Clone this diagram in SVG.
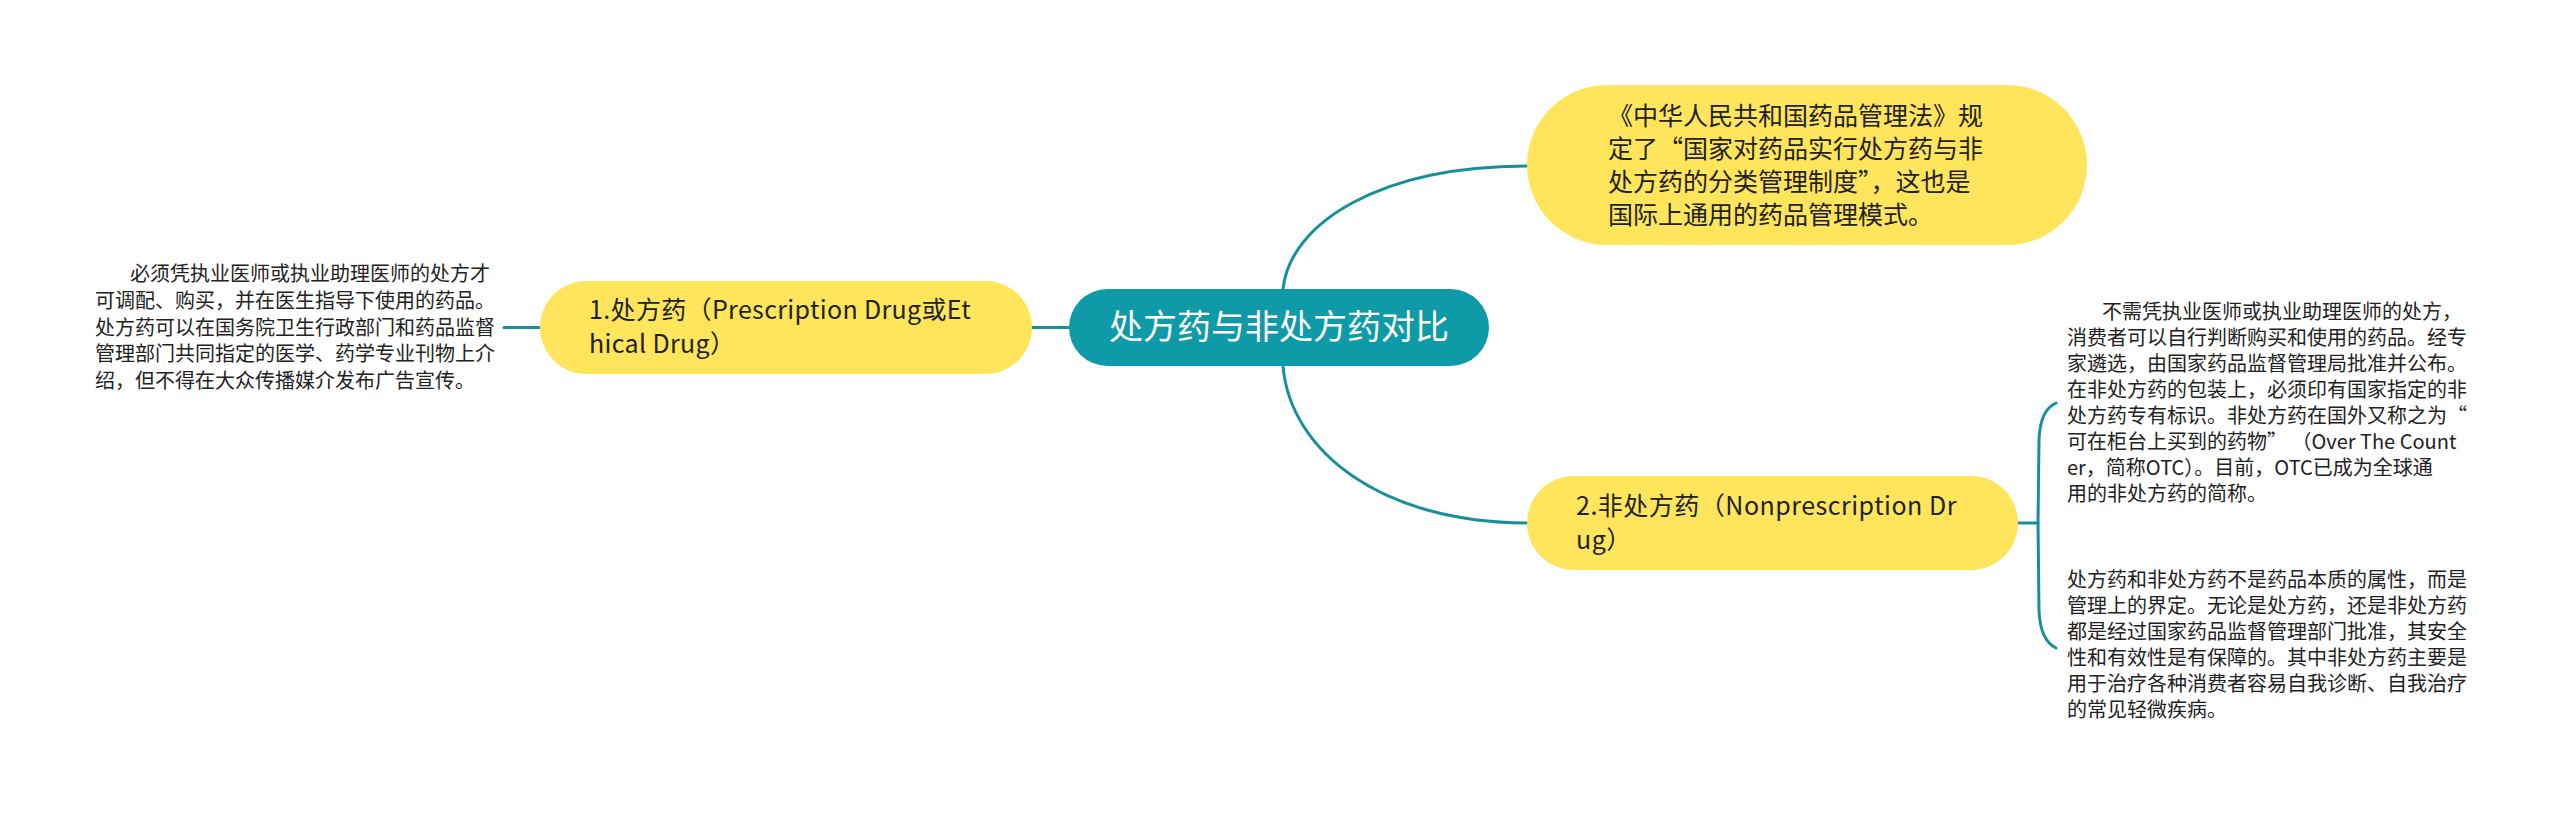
<svg xmlns="http://www.w3.org/2000/svg" width="2560" height="817" viewBox="0 0 2560 817">
<style>
.txt{font-family:"Noto Sans CJK SC","Microsoft YaHei",sans-serif;fill:#222}
.node{fill:#FFE55C}
.center{fill:#0E9AA7}
.ct{font-family:"Noto Sans CJK SC","Microsoft YaHei",sans-serif;fill:#fff;font-size:34px}
.nt{font-size:25px}
.lt{font-size:20px}
.conn{fill:none;stroke:#178F9C;stroke-width:3;stroke-linecap:round}
</style>
<rect width="2560" height="817" fill="#fff"/>
<g id="connectors">
<path class="conn" d="M1032,327.5 L1069,327.5"/>
<path class="conn" d="M504,327.5 L540,327.5"/>
<path class="conn" d="M1283,289 C1290,223 1380,166 1528,166"/>
<path class="conn" d="M1283,366 C1290,450 1380,523 1528,523"/>
<path class="conn" d="M2018,523 L2038,523"/>
<path class="conn" d="M2056,403 Q2040,410 2039,440 L2038,523 L2039,610 Q2040,640 2056,648"/>
</g>
<g id="center">
<rect class="center" x="1069" y="289" width="420" height="77" rx="38.5"/>
<text class="ct" x="1279" y="339" text-anchor="middle">处方药与非处方药对比</text>
</g>
<g id="node-top">
<rect class="node" x="1527" y="85" width="560" height="160" rx="80"/>
<text class="txt nt" x="1608"><tspan x="1608" y="125">《中华人民共和国药品管理法》规</tspan><tspan x="1608" y="158">定了“国家对药品实行处方药与非</tspan><tspan x="1608" y="191">处方药的分类管理制度”，这也是</tspan><tspan x="1608" y="224">国际上通用的药品管理模式。</tspan></text>
</g>
<g id="node-1">
<rect class="node" x="540" y="281" width="492" height="93" rx="46.5"/>
<text class="txt nt" letter-spacing="0.35"><tspan x="589" y="319">1.处方药（Prescription Drug或Et</tspan><tspan x="589" y="353">hical Drug）</tspan></text>
</g>
<g id="node-2">
<rect class="node" x="1527" y="476" width="491" height="94" rx="47"/>
<text class="txt nt" letter-spacing="0.5"><tspan x="1576" y="515">2.非处方药（Nonprescription Dr</tspan><tspan x="1576" y="549">ug）</tspan></text>
</g>
<g id="text-left">
<text class="txt lt"><tspan x="130" y="281">必须凭执业医师或执业助理医师的处方才</tspan><tspan x="95" y="308">可调配、购买，并在医生指导下使用的药品。</tspan><tspan x="95" y="335">处方药可以在国务院卫生行政部门和药品监督</tspan><tspan x="95" y="361">管理部门共同指定的医学、药学专业刊物上介</tspan><tspan x="95" y="388">绍，但不得在大众传播媒介发布广告宣传。</tspan></text>
</g>
<g id="text-right-1">
<text class="txt lt"><tspan x="2102" y="319">不需凭执业医师或执业助理医师的处方，</tspan><tspan x="2067" y="345">消费者可以自行判断购买和使用的药品。经专</tspan><tspan x="2067" y="371">家遴选，由国家药品监督管理局批准并公布。</tspan><tspan x="2067" y="397">在非处方药的包装上，必须印有国家指定的非</tspan><tspan x="2067" y="423">处方药专有标识。非处方药在国外又称之为“</tspan><tspan x="2067" y="449">可在柜台上买到的药物” （Over The Count</tspan><tspan x="2067" y="475">er，简称OTC）。目前，OTC已成为全球通</tspan><tspan x="2067" y="501">用的非处方药的简称。</tspan></text>
</g>
<g id="text-right-2">
<text class="txt lt"><tspan x="2067" y="587">处方药和非处方药不是药品本质的属性，而是</tspan><tspan x="2067" y="613">管理上的界定。无论是处方药，还是非处方药</tspan><tspan x="2067" y="639">都是经过国家药品监督管理部门批准，其安全</tspan><tspan x="2067" y="665">性和有效性是有保障的。其中非处方药主要是</tspan><tspan x="2067" y="691">用于治疗各种消费者容易自我诊断、自我治疗</tspan><tspan x="2067" y="717">的常见轻微疾病。</tspan></text>
</g>
</svg>
